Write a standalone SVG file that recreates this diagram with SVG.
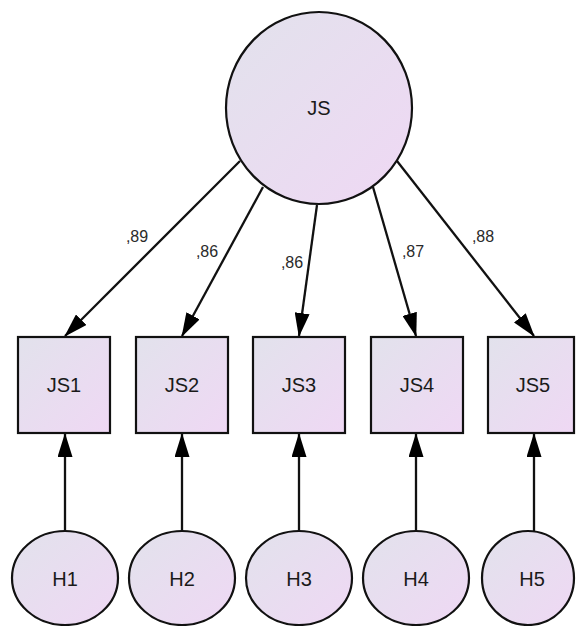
<svg xmlns="http://www.w3.org/2000/svg" width="576" height="626" viewBox="0 0 576 626">
  <style>
    .node { fill: url(#shade); stroke: #111; stroke-width: 2.2; }
    .lbl { font-family: "Liberation Sans", Arial, sans-serif; font-size: 20px; fill: #1a1a1a; text-anchor: middle; }
    .coef { font-family: "Liberation Sans", Arial, sans-serif; font-size: 16px; fill: #2a2a2a; text-anchor: middle; }
    .edge { stroke: #111; stroke-width: 2.3; fill: none; marker-end: url(#head); }
  </style>
  <defs>
    <linearGradient id="shade" x1="0" y1="0" x2="1" y2="1">
      <stop offset="0" stop-color="#e2e2ec"/>
      <stop offset="1" stop-color="#efd8f4"/>
    </linearGradient>
    <marker id="head" viewBox="0 0 24 15" refX="23" refY="7.5" markerWidth="24" markerHeight="15" markerUnits="userSpaceOnUse" orient="auto">
      <path d="M0,0 L24,7.5 L0,15 z" fill="#000"/>
    </marker>
  </defs>

  <rect width="576" height="626" fill="#ffffff"/>

  <!-- connectors -->
  <g id="connectors">
    <line class="edge" x1="240" y1="161" x2="65" y2="336"/>
    <line class="edge" x1="263" y1="187" x2="182" y2="336"/>
    <line class="edge" x1="317" y1="205" x2="299" y2="336"/>
    <line class="edge" x1="373" y1="187" x2="416" y2="336"/>
    <line class="edge" x1="397" y1="161" x2="534" y2="336"/>

    <line class="edge" x1="65" y1="532" x2="65" y2="434"/>
    <line class="edge" x1="182" y1="532" x2="182" y2="434"/>
    <line class="edge" x1="299" y1="532" x2="299" y2="434"/>
    <line class="edge" x1="416" y1="532" x2="416" y2="434"/>
    <line class="edge" x1="534" y1="532" x2="534" y2="434"/>

    <text class="coef" x="137" y="242">,89</text>
    <text class="coef" x="207" y="257">,86</text>
    <text class="coef" x="292" y="268">,86</text>
    <text class="coef" x="413" y="257">,87</text>
    <text class="coef" x="483" y="242">,88</text>
  </g>

  <!-- latent factor -->
  <g id="JS">
    <ellipse class="node" cx="319" cy="108" rx="93" ry="96"/>
    <text class="lbl" x="319" y="115">JS</text>
  </g>

  <!-- observed items -->
  <g id="JS1">
    <rect class="node" x="18" y="337" width="92" height="96"/>
    <text class="lbl" x="64" y="392">JS1</text>
  </g>
  <g id="JS2">
    <rect class="node" x="136" y="337" width="92" height="96"/>
    <text class="lbl" x="182" y="392">JS2</text>
  </g>
  <g id="JS3">
    <rect class="node" x="253" y="337" width="92" height="96"/>
    <text class="lbl" x="299" y="392">JS3</text>
  </g>
  <g id="JS4">
    <rect class="node" x="371" y="337" width="92" height="96"/>
    <text class="lbl" x="417" y="392">JS4</text>
  </g>
  <g id="JS5">
    <rect class="node" x="488" y="337" width="86" height="96"/>
    <text class="lbl" x="533" y="392">JS5</text>
  </g>

  <!-- error terms -->
  <g id="H1">
    <ellipse class="node" cx="65" cy="578" rx="53" ry="47"/>
    <text class="lbl" x="65" y="586">H1</text>
  </g>
  <g id="H2">
    <ellipse class="node" cx="182" cy="578" rx="53" ry="47"/>
    <text class="lbl" x="182" y="586">H2</text>
  </g>
  <g id="H3">
    <ellipse class="node" cx="299" cy="578" rx="53" ry="47"/>
    <text class="lbl" x="299" y="586">H3</text>
  </g>
  <g id="H4">
    <ellipse class="node" cx="416" cy="578" rx="53" ry="47"/>
    <text class="lbl" x="416" y="586">H4</text>
  </g>
  <g id="H5">
    <ellipse class="node" cx="528" cy="578" rx="46" ry="47"/>
    <text class="lbl" x="532" y="586">H5</text>
  </g>
</svg>
